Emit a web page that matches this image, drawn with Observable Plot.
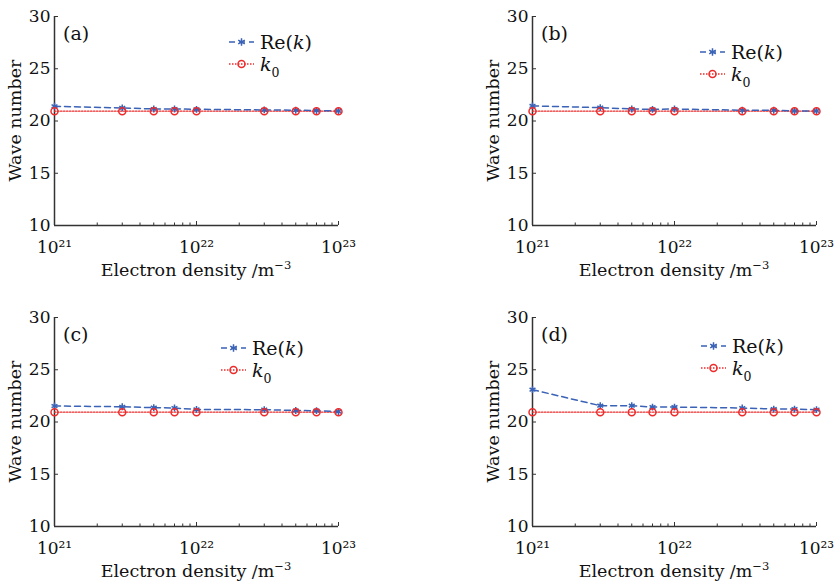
<!DOCTYPE html>
<html>
<head>
<meta charset="utf-8">
<script src="https://cdn.jsdelivr.net/npm/d3@7"></script>
<script src="https://cdn.jsdelivr.net/npm/@observablehq/plot@0.6"></script>
<style>
  body { margin: 0; background: #fff; }
  #wrap { position: relative; width: 838px; height: 583px; background: #fff; overflow: hidden; }
  .panel { position: absolute; }
  #wrap svg, #wrap svg text { font-family: 'DejaVu Serif', serif !important; }
</style>
</head>
<body>
<div id="wrap"></div>
<script>
// ---------- data ----------
const density = [1e21, 3e21, 5e21, 7e21, 1e22, 3e22, 5e22, 7e22, 1e23];
const k0 = [20.94, 20.94, 20.94, 20.94, 20.94, 20.94, 20.94, 20.94, 20.94];
const reKa = [21.41, 21.25, 21.15, 21.15, 21.12, 21.06, 21.03, 21.00, 20.96];
const reKb = [21.44, 21.28, 21.15, 21.12, 21.15, 21.03, 21.03, 20.96, 20.96];
const reKc = [21.53, 21.46, 21.37, 21.34, 21.20, 21.18, 21.10, 21.08, 20.99];
const reKd = [23.09, 21.56, 21.56, 21.43, 21.43, 21.34, 21.24, 21.24, 21.18];
const panelLabels = ["(a)", "(b)", "(c)", "(d)"];
const xMajorTicks = [1e21, 1e22, 1e23];
const xMajorLabels = ["10²¹", "10²²", "10²³"];
const xMinorTicks = [2e21,3e21,4e21,5e21,6e21,7e21,8e21,9e21,2e22,3e22,4e22,5e22,6e22,7e22,8e22,9e22];
const yTicks = [10, 15, 20, 25, 30];
const xDomain = [1e21, 1e23];
const yDomain = [10, 30];
const yLabel = "Wave number";
const xLabelMain = "Electron density /m";
const xLabelSup = "−3";

// ---------- layout/style ----------
const BLUE = "#3a62b6";
const RED = "#ee2b2b";
const FONT = "'DejaVu Serif', serif";
const FS = 17;
const panels = [
  {re: reKa, left: 0,   top: 0,   mt: 16, mb: 58, legend: [229, 42]},
  {re: reKb, left: 478, top: 0,   mt: 16, mb: 58, legend: [222, 52]},
  {re: reKc, left: 0,   top: 300, mt: 17, mb: 57, legend: [221, 48]},
  {re: reKd, left: 478, top: 300, mt: 17, mb: 57, legend: [223, 46]}
];
const W = 360, H = 283, ML = 54, MR = 22;

const wrap = document.getElementById("wrap");

panels.forEach((p, i) => {
  const rows = density.map((x, j) => ({x, re: p.re[j], k0: k0[j]}));
  const chart = Plot.plot({
    width: W, height: H,
    marginLeft: ML, marginRight: MR, marginTop: p.mt, marginBottom: p.mb,
    style: {fontFamily: FONT, fontSize: FS + "px", color: "#111", background: "#fff", overflow: "visible"},
    x: {type: "log", domain: xDomain},
    y: {domain: yDomain},
    marks: [
      Plot.ruleY([yDomain[0]], {stroke: "#333", strokeWidth: 1.5}),
      Plot.ruleX([xDomain[0]], {stroke: "#333", strokeWidth: 1.5}),
      Plot.axisY({ticks: yTicks, tickSize: -4, tickPadding: 8, label: null, stroke: "#333", fill: "#111", fontSize: FS}),
      Plot.axisX({ticks: xMajorTicks, tickFormat: (d) => xMajorLabels[xMajorTicks.indexOf(d)], tickSize: -4, tickPadding: 19, label: null, stroke: "#333", fill: "#111", fontSize: FS}),
      Plot.axisX({ticks: xMinorTicks, tickFormat: () => "", tickSize: -2.5, label: null, stroke: "#333"}),
      Plot.line(rows, {x: "x", y: "k0", stroke: RED, strokeWidth: 1.3, strokeDasharray: "1.5,1.5"}),
      Plot.line(rows, {x: "x", y: "re", stroke: BLUE, strokeWidth: 1.5, strokeDasharray: "6,4"}),
      Plot.dot(rows, {x: "x", y: "re", symbol: "asterisk", stroke: BLUE, r: 3.2, strokeWidth: 1.5}),
      Plot.dot(rows, {x: "x", y: "k0", symbol: "circle", stroke: RED, fill: "none", r: 3.5, strokeWidth: 1.5})
    ]
  });
  const div = document.createElement("div");
  div.className = "panel";
  div.style.left = p.left + "px";
  div.style.top = p.top + "px";
  div.appendChild(chart);
  wrap.appendChild(div);

  const svg = d3.select(chart);
  const plotBottom = H - p.mb;
  const plotMidX = ML + (W - ML - MR) / 2;
  const plotMidY = p.mt + (plotBottom - p.mt) / 2;

  // panel label
  svg.append("text").attr("x", ML + 9).attr("y", p.mt + 24).attr("text-anchor", "start")
    .attr("font-family", FONT).attr("font-size", 19).attr("fill", "#111").text(panelLabels[i]);

  // y label
  svg.append("text").attr("transform", `translate(${15},${plotMidY}) rotate(-90)`)
    .attr("text-anchor", "middle").attr("dominant-baseline", "central")
    .attr("font-family", FONT).attr("font-size", 17.5).attr("fill", "#111").text(yLabel);

  // x label
  const xl = svg.append("text").attr("x", plotMidX).attr("y", plotBottom + 51)
    .attr("text-anchor", "middle")
    .attr("font-family", FONT).attr("font-size", 17.5).attr("fill", "#111");
  xl.append("tspan").text(xLabelMain);
  xl.append("tspan").attr("dy", -7).attr("font-size", 11.5).text(xLabelSup);

  // legend
  const [lx, ly] = p.legend;
  const lg = svg.append("g");
  lg.append("line").attr("x1", lx).attr("x2", lx + 25).attr("y1", ly).attr("y2", ly)
    .attr("stroke", BLUE).attr("stroke-width", 1.5).attr("stroke-dasharray", "6,4");
  lg.append("path").attr("d", d3.symbol(d3.symbolAsterisk, 40)())
    .attr("transform", `translate(${lx + 12.5},${ly})`).attr("stroke", BLUE).attr("stroke-width", 1.5).attr("fill", "none");
  const t1 = lg.append("text").attr("x", lx + 31).attr("y", ly + 6.5).attr("text-anchor", "start")
    .attr("font-family", FONT).attr("font-size", 19).attr("fill", "#111");
  t1.append("tspan").text("Re(");
  t1.append("tspan").attr("font-style", "italic").text("k");
  t1.append("tspan").text(")");

  const ly2 = ly + 22;
  lg.append("line").attr("x1", lx).attr("x2", lx + 25).attr("y1", ly2).attr("y2", ly2)
    .attr("stroke", RED).attr("stroke-width", 1.3).attr("stroke-dasharray", "1.5,1.5");
  lg.append("circle").attr("cx", lx + 12.5).attr("cy", ly2).attr("r", 3.5)
    .attr("stroke", RED).attr("stroke-width", 1.5).attr("fill", "none");
  const t2 = lg.append("text").attr("x", lx + 31).attr("y", ly2 + 6.5).attr("text-anchor", "start")
    .attr("font-family", FONT).attr("font-size", 19).attr("fill", "#111");
  t2.append("tspan").attr("font-style", "italic").text("k");
  t2.append("tspan").attr("dy", 6).attr("font-size", 12.5).text("0");
});
</script>
</body>
</html>
